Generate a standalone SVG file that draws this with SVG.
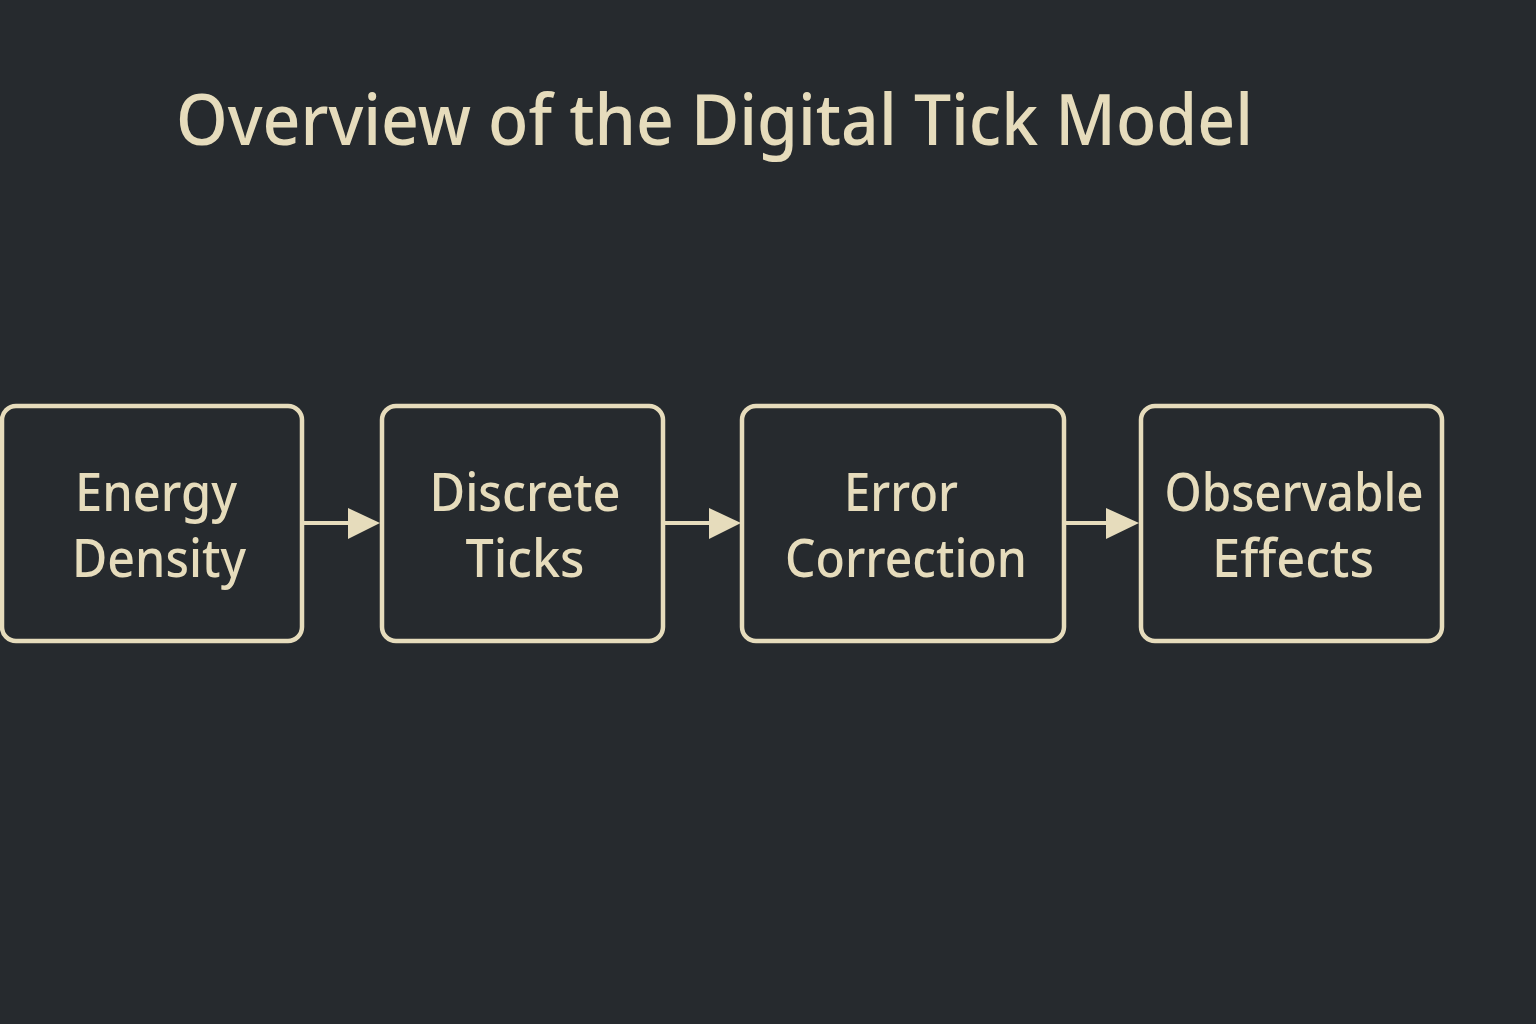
<svg xmlns="http://www.w3.org/2000/svg" width="1536" height="1024" viewBox="0 0 1536 1024">
<style>
.box{fill:#262a2e;stroke:#e6dcbc;stroke-width:4.5}
.lbl{font-family:"Noto Sans",sans-serif;font-size:52px;font-weight:500;fill:#e6dcbc;text-anchor:middle}
.title{font-family:"Noto Sans",sans-serif;font-size:70px;font-weight:500;fill:#e6dcbc}
.conn{stroke:#e6dcbc;stroke-width:4;fill:none}
.head{fill:#e6dcbc}
</style>
<rect width="1536" height="1024" fill="#262a2e"/>
<text class="title" x="176" y="145" textLength="1077" lengthAdjust="spacingAndGlyphs">Overview of the Digital Tick Model</text>
<g id="connectors">
<line class="conn" x1="302" y1="523" x2="350" y2="523"/>
<polygon class="head" points="348,508 380,523 348,539"/>
<line class="conn" x1="663" y1="523" x2="711" y2="523"/>
<polygon class="head" points="709,508 741,523 709,539"/>
<line class="conn" x1="1064" y1="523" x2="1108" y2="523"/>
<polygon class="head" points="1106,508 1139,523 1106,539"/>
</g>
<g id="n1">
<rect class="box" x="2" y="406" width="300" height="235" rx="14"/>
<text class="lbl" x="156" y="511" textLength="162" lengthAdjust="spacingAndGlyphs">Energy</text>
<text class="lbl" x="159" y="577" textLength="174" lengthAdjust="spacingAndGlyphs">Density</text>
</g>
<g id="n2">
<rect class="box" x="382" y="406" width="281" height="235" rx="14"/>
<text class="lbl" x="525" y="511" textLength="191" lengthAdjust="spacingAndGlyphs">Discrete</text>
<text class="lbl" x="525" y="577" textLength="119" lengthAdjust="spacingAndGlyphs">Ticks</text>
</g>
<g id="n3">
<rect class="box" x="742" y="406" width="322" height="235" rx="14"/>
<text class="lbl" x="901" y="511" textLength="114" lengthAdjust="spacingAndGlyphs">Error</text>
<text class="lbl" x="906" y="577" textLength="242" lengthAdjust="spacingAndGlyphs">Correction</text>
</g>
<g id="n4">
<rect class="box" x="1141" y="406" width="301" height="235" rx="14"/>
<text class="lbl" x="1294" y="511" textLength="259" lengthAdjust="spacingAndGlyphs">Observable</text>
<text class="lbl" x="1293" y="577" textLength="162" lengthAdjust="spacingAndGlyphs">Effects</text>
</g>
</svg>
